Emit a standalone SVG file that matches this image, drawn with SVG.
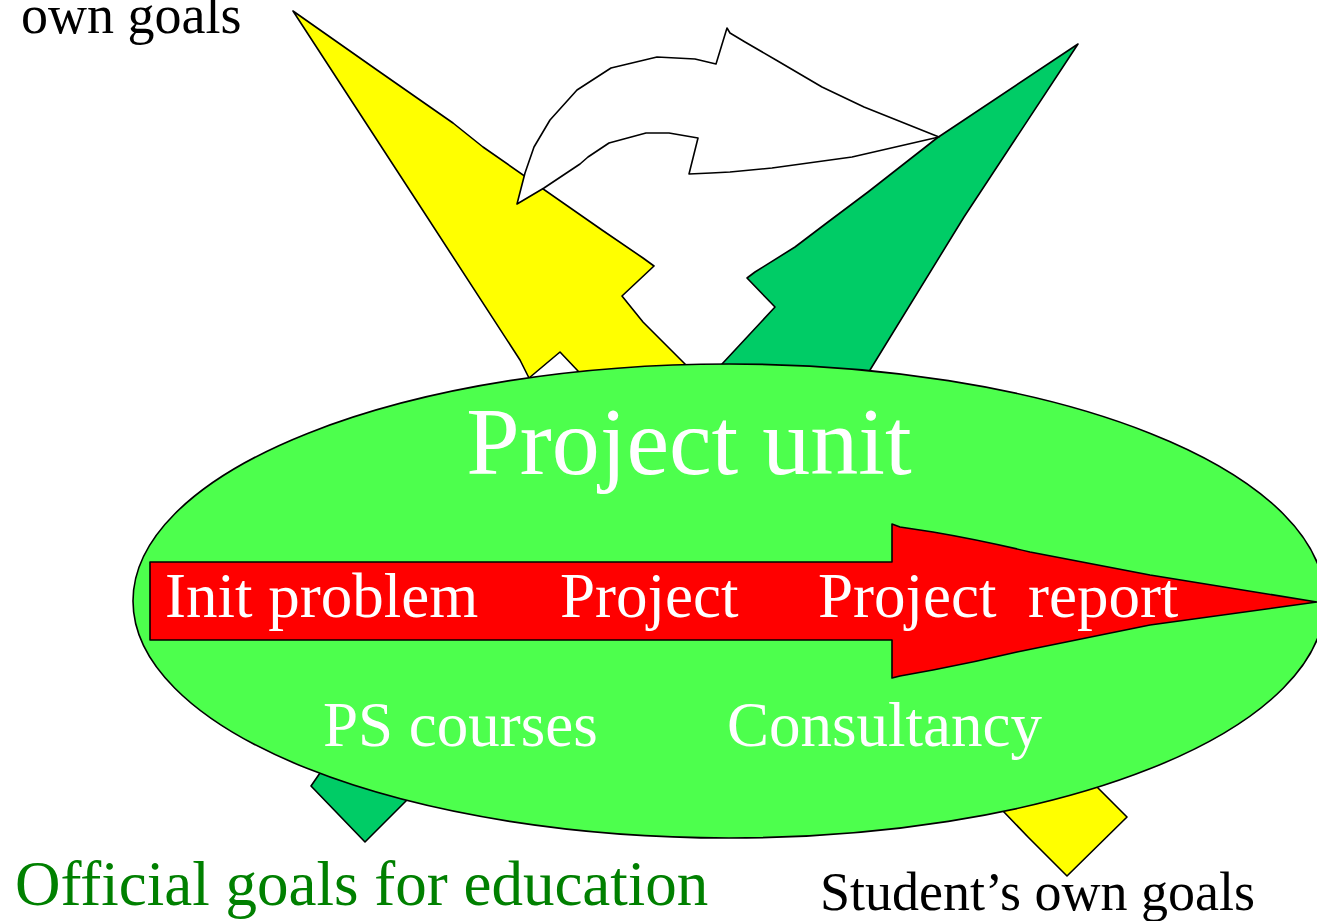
<svg xmlns="http://www.w3.org/2000/svg" width="1317" height="921" viewBox="0 0 1317 921">
<style>
.shape{stroke:#000;stroke-width:1.6;stroke-linejoin:round}
.serif{font-family:"Liberation Serif","Times New Roman",serif}
.w{fill:#fff}
</style>
<rect width="1317" height="921" fill="#fff"/>
<g id="connectors">
<g id="yellow-arrow">
<polygon class="shape" fill="#ffff00" points="293,11 377,70 453,123 483,147 602,230 643,258 654,266 622,296 643,322 687,366 1098,788 1127,817 1067,876 1028,837 1003,811 578,371 560,352 529,378 520,360 418,203"/>
</g>
<g id="green-arrow">
<polygon class="shape" fill="#00cc66" points="1078,44 964,217 870,370 406,801 365,842 311,786 320,773 722,364 775,307 747,278 755,272 795,247 828,222 868,192 937,138"/>
</g>
<g id="white-curved-arrow">
<polygon class="shape" fill="#fff" points="517,204 525,173 534,147 550,120 577,90 611,68 657,57 695,59 716,64 727,28 730,33 745,42 776,60 822,87 864,107 939,137 852,157 772,168 730,172 711,173 689,174 698,138 669,133 646,133 609,143 588,157 580,164 544,188"/>
</g>
</g>
<g id="project-unit">
<ellipse class="shape" fill="#4dff4d" cx="729" cy="601" rx="596" ry="237"/>
<text class="serif w" x="689" y="474" font-size="96" text-anchor="middle">Project unit</text>
</g>
<g id="process-arrow">
<path class="shape" fill="#ff0000" d="M150,562 L892,562 L892,524 L900,527 L933,532 Q980,540 1030,552 L1150,575 L1317,602 L1150,625 L1017,652 Q975,662 933,670 L900,676 L892,678 L892,640 L150,640 Z"/>
<text class="serif w" x="165" y="617" font-size="63">Init problem</text>
<text class="serif w" x="560" y="617" font-size="63">Project</text>
<text class="serif w" x="818" y="617" font-size="63" xml:space="preserve">Project  report</text>
</g>
<g id="ps-courses">
<text class="serif w" x="323" y="746" font-size="63">PS courses</text>
</g>
<g id="consultancy">
<text class="serif w" x="727" y="746" font-size="63">Consultancy</text>
</g>
<g id="label-own-goals-top">
<text class="serif" x="21" y="33" font-size="54" fill="#000">own goals</text>
</g>
<g id="label-official">
<text class="serif" x="15" y="905" font-size="63" fill="#008000">Official goals for education</text>
</g>
<g id="label-student">
<text class="serif" x="820" y="910" font-size="54" fill="#000">Student’s own goals</text>
</g>
</svg>
